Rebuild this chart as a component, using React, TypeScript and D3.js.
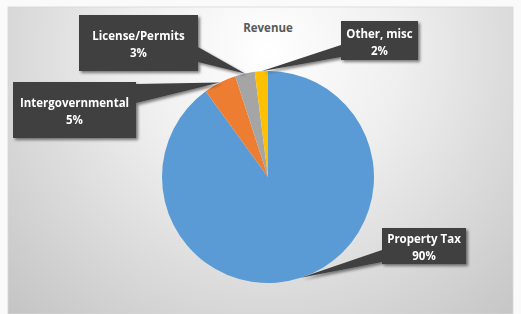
import React from "react";
import * as d3 from "d3";

const categories = ["Property Tax", "Intergovernmental", "License/Permits", "Other, misc"];
const values = [90, 5, 3, 2];
const colors = ["#5b9bd5", "#ed7d31", "#a5a5a5", "#ffc000"];
const labelText = ["90%", "5%", "3%", "2%"];

// label boxes: [x, y, w, h] and pointer base points
const boxes = [
  { x: 382, y: 228, w: 84, h: 36, base: [[382, 250], [382, 262]], tipR: 1.0 },
  { x: 13, y: 82, w: 123, h: 56, base: [[136, 84], [136, 103]], tipR: 1.0 },
  { x: 79, y: 15, w: 119, h: 56, base: [[198, 47], [198, 62]], tipR: 1.0 },
  { x: 341, y: 21, w: 77, h: 39, base: [[341, 45], [341, 57]], tipR: 1.0 },
];

const W = 521;
const H = 314;
const cx = 268;
const cy = 177;
const R = 106;

export default function App() {
  const pie = d3.pie<number>().sort(null).value((d) => d);
  const arcs = pie(values);
  const arc = d3.arc<d3.PieArcDatum<number>>().innerRadius(0).outerRadius(R);
  const font = "'Open Sans', Lato, sans-serif";
  const fs = 11.5;

  return (
    <svg width={W} height={H} style={{ position: "absolute", left: 0, top: 0 }}>
      <defs>
        <radialGradient id="bg" cx="268" cy="50" r="380" gradientUnits="userSpaceOnUse">
          <stop offset="0" stopColor="#ffffff" />
          <stop offset="0.35" stopColor="#efefef" />
          <stop offset="1" stopColor="#c2c2c2" />
        </radialGradient>
        <filter id="sh" x="-20%" y="-20%" width="150%" height="150%">
          <feGaussianBlur in="SourceAlpha" stdDeviation="1.5" />
          <feOffset dx="2" dy="2" result="b" />
          <feComponentTransfer>
            <feFuncA type="linear" slope="0.5" />
          </feComponentTransfer>
          <feMerge>
            <feMergeNode />
            <feMergeNode in="SourceGraphic" />
          </feMerge>
        </filter>
      </defs>
      <rect x={0} y={0} width={W} height={H} fill="#fafafa" />
      <rect x={8} y={7} width={505} height={H - 7} fill="url(#bg)" stroke="#d6d6d6" strokeWidth={0.8} />
      <text x={268} y={32} textAnchor="middle" fontFamily={font} fontWeight="bold" fontSize={fs} fill="#595959">
        Revenue
      </text>
      <g transform={`translate(${cx},${cy})`}>
        {arcs.map((a, i) => (
          <path key={i} d={arc(a) || ""} fill={colors[i]} />
        ))}
      </g>
      {arcs.map((a, i) => {
        const b = boxes[i];
        const mid = (a.startAngle + a.endAngle) / 2;
        const tx = cx + Math.sin(mid) * R * b.tipR;
        const ty = cy - Math.cos(mid) * R * b.tipR;
        const pts = [[tx, ty], b.base[0], b.base[1]].map((p) => p.join(",")).join(" ");
        return (
          <g key={i} filter="url(#sh)">
            <polygon points={pts} fill="#404040" />
            <rect x={b.x} y={b.y} width={b.w} height={b.h} fill="#404040" />
            <text
              x={b.x + b.w / 2}
              y={b.y + b.h / 2 - 3}
              textAnchor="middle"
              fontFamily={font}
              fontWeight="bold"
              fontSize={fs}
              fill="#ffffff"
            >
              {categories[i]}
            </text>
            <text
              x={b.x + b.w / 2}
              y={b.y + b.h / 2 + 14}
              textAnchor="middle"
              fontFamily={font}
              fontWeight="bold"
              fontSize={fs}
              fill="#ffffff"
            >
              {labelText[i]}
            </text>
          </g>
        );
      })}
    </svg>
  );
}
